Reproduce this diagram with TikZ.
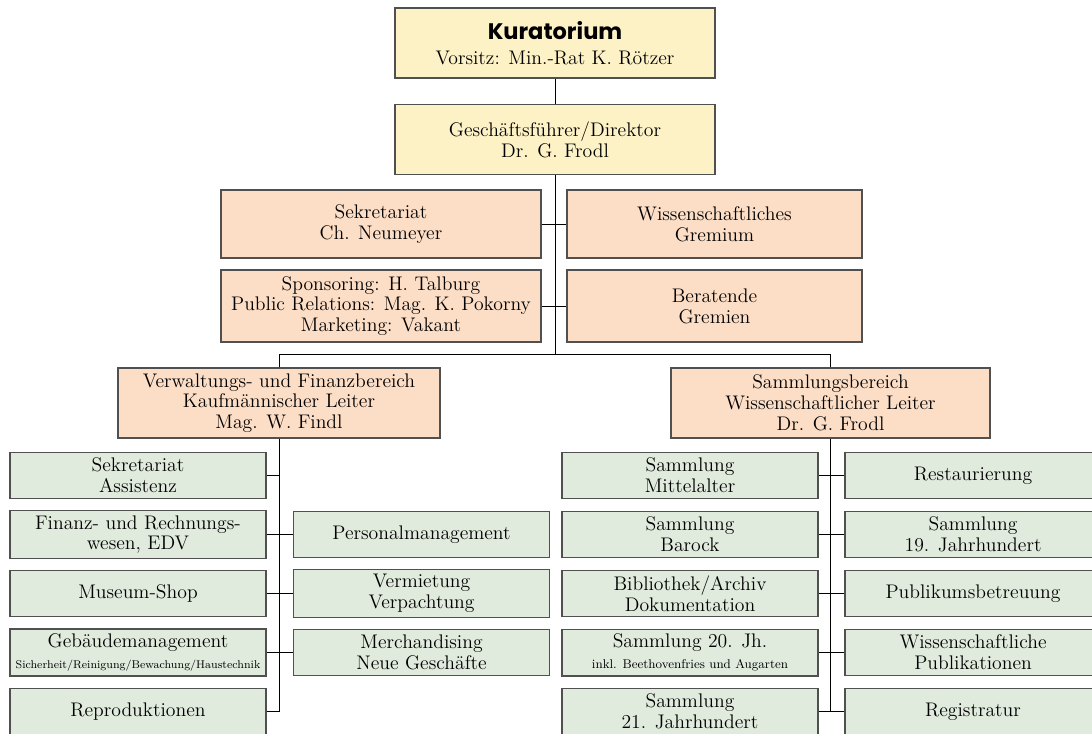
\documentclass[tikz,border=0pt]{standalone}
\usepackage{fontspec}
\newfontfamily\kopfschrift{Poppins}
\definecolor{gelb}{HTML}{FDF1C6}
\definecolor{lachs}{HTML}{FCDEC6}
\definecolor{gruen}{HTML}{E1EBDD}
\definecolor{rand}{HTML}{505050}
\newcommand{\normtxt}{\fontsize{14}{14.8}\selectfont}
\newcommand{\kleintxt}{\fontsize{8}{9}\selectfont}
\tikzstyle{leitung}=[rectangle, draw=rand, line width=0.9pt, fill=gelb, text width=7.8cm, inner xsep=0.1cm, text badly centered, minimum height=1.75cm, font=\normtxt]
\tikzstyle{stab}=[rectangle, draw=rand, line width=0.9pt, fill=lachs, inner xsep=0.1cm, text badly centered, minimum height=1.7cm, font=\normtxt]
\tikzstyle{abteilung}=[rectangle, draw=rand, line width=0.9pt, fill=gruen, text width=6.2cm, inner xsep=0.1cm, text badly centered, minimum height=1.15cm, font=\normtxt]
\tikzstyle{linie}=[draw=black, line width=0.6pt]

\begin{document}
\begin{tikzpicture}[x=0.025cm, y=-0.025cm, node distance=1.475cm]
		\useasboundingbox (0,0) rectangle (1092,733);
		% Leitung
		\node (kur) [leitung] at (555,43) {{\kopfschrift\bfseries\fontsize{16}{16}\selectfont Kuratorium}\\[3pt] Vorsitz: Min.-Rat K. Rötzer};
		\node (gf) [leitung, below of=kur, yshift=-0.94cm] {Geschäftsführer/Direktor\\ Dr. G. Frodl};
		
		% Stabsstellen
		\node (sek) [stab, text width=7.8cm] at (381,224) {Sekretariat\\ Ch. Neumeyer};
		\node (wiss) [stab, text width=7.175cm] at (714.5,224) {Wissenschaftliches\\ Gremium};
		\node (spons) [stab, text width=7.8cm, minimum height=1.8cm, below of=sek, yshift=-0.575cm] {Sponsoring: H. Talburg\\ Public Relations: Mag. K. Pokorny\\ Marketing: Vakant};
		\node (berat) [stab, text width=7.175cm, minimum height=1.8cm, below of=wiss, yshift=-0.575cm] {Beratende\\ Gremien};
		
		% Bereiche
		\node (verw) [stab, text width=7.85cm, minimum height=1.75cm] at (279,403) {Verwaltungs- und Finanzbereich\\ Kaufmännischer Leiter\\ Mag. W. Findl};
		\node (samm) [stab, text width=7.775cm, minimum height=1.75cm] at (830.5,403) {Sammlungsbereich\\ Wissenschaftlicher Leiter\\ Dr. G. Frodl};
		
		% Verwaltung
		\node (sekass) [abteilung] at (138,475.5) {Sekretariat\\ Assistenz};
		\node (finanz) [abteilung, below of=sekass] {Finanz- und Rechnungs-\\ wesen, EDV};
		\node (shop) [abteilung, below of=finanz] {Museum-Shop};
		\node (gebaeude) [abteilung, below of=shop] {Gebäudemanagement\\ {\kleintxt Sicherheit/Reinigung/Bewachung/Haustechnik}};
		\node (repro) [abteilung, below of=gebaeude] {Reproduktionen};
		\node (personal) [abteilung, right of=finanz, xshift=5.6125cm] {Personalmanagement};
		\node (vermiet) [abteilung, right of=shop, xshift=5.6125cm] {Vermietung\\ Verpachtung};
		\node (merch) [abteilung, right of=gebaeude, xshift=5.6125cm] {Merchandising\\ Neue Geschäfte};
		
		% Sammlung
		\node (mittel) [abteilung] at (690,475.5) {Sammlung\\ Mittelalter};
		\node (barock) [abteilung, below of=mittel] {Sammlung\\ Barock};
		\node (biblio) [abteilung, below of=barock] {Bibliothek/Archiv\\ Dokumentation};
		\node (jh20) [abteilung, below of=biblio] {Sammlung 20. Jh.\\ {\fontsize{9}{9}\selectfont inkl. Beethovenfries und Augarten}};
		\node (jh21) [abteilung, below of=jh20] {Sammlung\\ 21. Jahrhundert};
		\node (restaur) [abteilung, right of=mittel, xshift=5.6cm] {Restaurierung};
		\node (jh19) [abteilung, right of=barock, xshift=5.6cm] {Sammlung\\ 19. Jahrhundert};
		\node (publikum) [abteilung, right of=biblio, xshift=5.6cm] {Publikumsbetreuung};
		\node (publik) [abteilung, right of=jh20, xshift=5.6cm] {Wissenschaftliche\\ Publikationen};
		\node (regis) [abteilung, right of=jh21, xshift=5.6cm] {Registratur};
		
		\coordinate (bus) at (555,354);
		\coordinate (lende) at (repro.east -| verw.south);
		\coordinate (rende) at (jh21.east -| samm.south);
		\coordinate (sekass-v) at (sekass.east -| verw.south);
		
		\draw[linie] (kur) -- (gf);
		\draw[linie] (gf) -- (bus);
		\draw[linie] (sek) -- (wiss);
		\draw[linie] (spons) -- (berat);
		\draw[linie] (verw) |- (bus) -| (samm);
		\draw[linie] (verw) -- (lende);
		\draw[linie] (sekass) -- (sekass-v);
		\draw[linie] (finanz) -- (personal);
		\draw[linie] (shop) -- (vermiet);
		\draw[linie] (gebaeude) -- (merch);
		\draw[linie] (repro) -- (lende);
		\draw[linie] (samm) -- (rende);
		\draw[linie] (mittel) -- (restaur);
		\draw[linie] (barock) -- (jh19);
		\draw[linie] (biblio) -- (publikum);
		\draw[linie] (jh20) -- (publik);
		\draw[linie] (jh21) -- (regis);
		
		\end{tikzpicture}
\end{document}
